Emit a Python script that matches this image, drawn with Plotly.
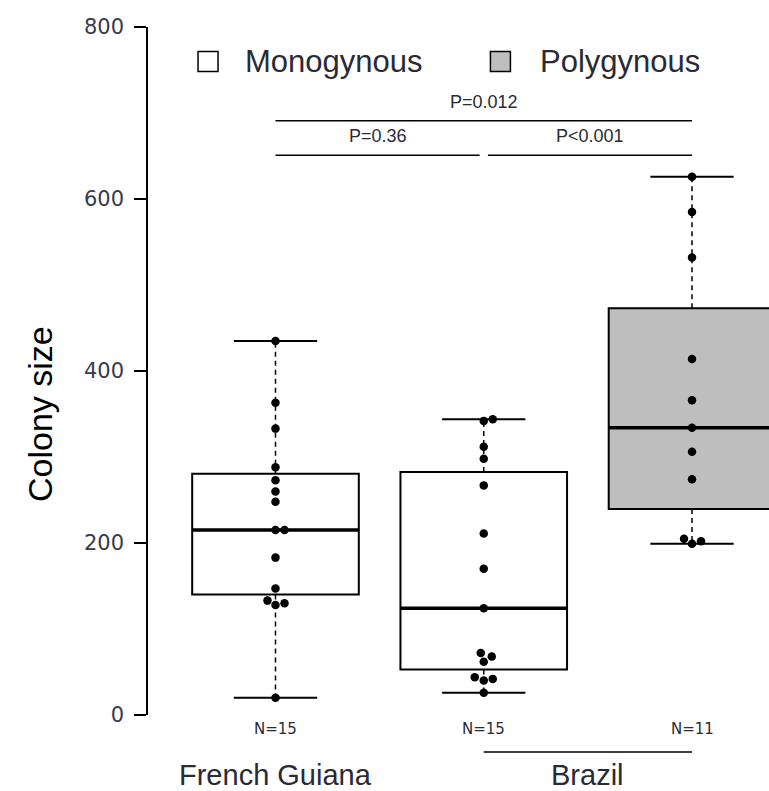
import numpy as np
import plotly.graph_objects as go

# ---------------- data ----------------
regions = ["French Guiana", "Brazil", "Brazil"]
social_forms = ["Monogynous", "Monogynous", "Polygynous"]
positions = [1, 2, 3]
fg_mono = [435, 363, 333, 288, 273, 260, 248, 215, 215, 183, 147, 133, 130, 128, 20]
br_mono = [344, 342, 312, 298, 267, 211, 170, 124, 72, 68, 62, 44, 42, 40, 26]
br_poly = [626, 585, 532, 414, 366, 334, 306, 274, 205, 202, 199]
series = [fg_mono, br_mono, br_poly]
p_labels = ["P=0.36", "P<0.001", "P=0.012"]
y_ticks = [0, 200, 400, 600, 800]
legend_labels = ["Monogynous", "Polygynous"]

# ---------------- style ----------------
fills = ["white", "white", "#bebebe"]
legend_fills = ["white", "#bebebe"]
W, H = 769, 791
L, R, T, B = 148, 0, 27, 76
XR = [0.3878, 3.3697]
YR = [0, 800]
px_x = (W - L - R) / (XR[1] - XR[0])
px_y = (H - T - B) / (YR[1] - YR[0])
FONT = "Liberation Sans, Arial, sans-serif"
TXT = "#2a2a35"


def fivenum(v):
    v = np.sort(np.asarray(v, float))
    n = len(v)
    n4 = np.floor((n + 3) / 2) / 2
    d = np.array([1, n4, (n + 1) / 2, n + 1 - n4, n])
    return 0.5 * (v[np.floor(d - 1).astype(int)] + v[np.ceil(d - 1).astype(int)])


def swarm(vals, center, diam=9.0):
    placed = []
    xs, ys = [], []
    cands = [0]
    for k in range(1, 60):
        cands += [k, -k]
    for v in sorted(vals):
        for off in cands:
            ok = all((off - ox) ** 2 + ((v - oy) * px_y) ** 2 >= diam ** 2 for ox, oy in placed)
            if ok:
                break
        placed.append((off, v))
        xs.append(center + off / px_x)
        ys.append(v)
    return xs, ys


fig = go.Figure()

for pos, vals, fc in zip(positions, series, fills):
    mn, q1, med, q3, mx = fivenum(vals)
    iqr = q3 - q1
    arr = np.asarray(vals)
    lo = arr[arr >= q1 - 1.5 * iqr].min()
    hi = arr[arr <= q3 + 1.5 * iqr].max()
    # dashed whiskers
    fig.add_trace(go.Scatter(x=[pos, pos, None, pos, pos], y=[q3, hi, None, q1, lo],
                             mode="lines", line=dict(color="black", width=1.5, dash="5px,4px"),
                             showlegend=False, hoverinfo="skip"))
    # caps
    fig.add_trace(go.Scatter(x=[pos - 0.2, pos + 0.2, None, pos - 0.2, pos + 0.2],
                             y=[hi, hi, None, lo, lo], mode="lines",
                             line=dict(color="black", width=2), showlegend=False, hoverinfo="skip"))
    # box
    fig.add_trace(go.Box(x=[pos], q1=[q1], median=[med], q3=[q3], lowerfence=[q1], upperfence=[q3],
                         width=0.8, whiskerwidth=0, fillcolor=fc, boxpoints=False,
                         line=dict(color="black", width=2), showlegend=False))
    # median thicker
    fig.add_trace(go.Scatter(x=[pos - 0.4, pos + 0.4], y=[med, med], mode="lines",
                             line=dict(color="black", width=3.5), showlegend=False, hoverinfo="skip"))
    # points
    xs, ys = swarm(vals, pos)
    fig.add_trace(go.Scatter(x=xs, y=ys, mode="markers",
                             marker=dict(color="black", size=8.5, symbol="circle"),
                             showlegend=False))

shapes = []
annotations = []

# legend
leg_x = [0.628, 2.032]
leg_text_x = [0.846, 2.262]
leg_y = 760
for lx, tx, lab, fc in zip(leg_x, leg_text_x, legend_labels, legend_fills):
    shapes.append(dict(type="rect", xref="x", yref="y", x0=lx, x1=lx + 20 / px_x,
                       y0=leg_y - 10 / px_y, y1=leg_y + 10 / px_y,
                       fillcolor=fc, line=dict(color="black", width=1.5)))
    annotations.append(dict(xref="x", yref="y", x=tx, y=leg_y, text=lab, showarrow=False,
                            xanchor="left", yanchor="middle",
                            font=dict(family=FONT, size=31, color=TXT)))

# significance bars
bars = [(1, 1.98, 651), (2.02, 3, 651), (1, 3, 691)]
for (x0, x1, yb), lab in zip(bars, p_labels):
    shapes.append(dict(type="line", xref="x", yref="y", x0=x0, x1=x1, y0=yb, y1=yb,
                       line=dict(color="black", width=1.5)))
    annotations.append(dict(xref="x", yref="y", x=(x0 + x1) / 2, y=yb + 19 / px_y, text=lab,
                            showarrow=False, xanchor="center", yanchor="middle",
                            font=dict(family=FONT, size=18, color=TXT)))

# N labels
for pos, vals in zip(positions, series):
    annotations.append(dict(xref="x", yref="paper", x=pos, y=-14 / (H - T - B), text=f"N={len(vals)}",
                            showarrow=False, xanchor="center", yanchor="middle",
                            font=dict(family="DejaVu Sans, sans-serif", size=15, color=TXT)))

# region labels
reg_names = list(dict.fromkeys(regions))
for name in reg_names:
    ps = [p for p, r in zip(positions, regions) if r == name]
    xc = (min(ps) + max(ps)) / 2
    annotations.append(dict(xref="x", yref="paper", x=xc, y=-60 / (H - T - B), text=name,
                            showarrow=False, xanchor="center", yanchor="middle",
                            font=dict(family=FONT, size=29, color=TXT)))
    if len(ps) > 1:
        shapes.append(dict(type="line", xref="x", yref="paper", x0=min(ps), x1=max(ps),
                           y0=-37 / (H - T - B), y1=-37 / (H - T - B),
                           line=dict(color="black", width=1.5)))

# y title
annotations.append(dict(xref="paper", yref="paper", x=-108 / (W - L - R), y=(715 - 414) / (H - T - B),
                        text="Colony size", textangle=-90, showarrow=False,
                        xanchor="center", yanchor="middle",
                        font=dict(family=FONT, size=34, color="black")))

fig.update_layout(
    width=W, height=H,
    margin=dict(l=L, r=R, t=T, b=B),
    paper_bgcolor="white", plot_bgcolor="white",
    showlegend=False,
    shapes=shapes, annotations=annotations,
    xaxis=dict(range=XR, visible=False),
    yaxis=dict(range=YR, tickvals=y_ticks, showgrid=False, zeroline=False,
               showline=True, linecolor="black", linewidth=1.5,
               ticks="outside", ticklen=12, tickwidth=1.5, tickcolor="black",
               ticklabelstandoff=6,
               tickfont=dict(family="DejaVu Sans, sans-serif", size=21, color="#3a3a4a")),
)

fig.write_html("out.html")
